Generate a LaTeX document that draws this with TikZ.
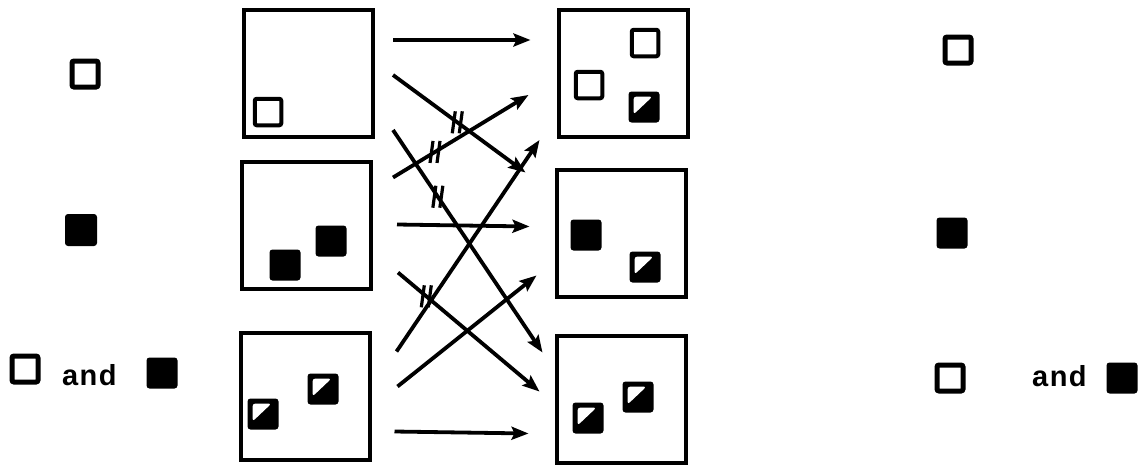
\documentclass[tikz,border=0pt]{standalone}
\usepackage{fontspec}
\setmainfont{Liberation Sans}
\usetikzlibrary{calc,arrows.meta}
\begin{document}
\begin{tikzpicture}[x=1pt,y=-1pt,
  bigbox/.style={draw,line width=4pt,minimum width=129pt,minimum height=127pt,inner sep=0pt},
  hollow/.style={draw,line width=4pt,rounded corners=2pt,minimum size=26.5pt,inner sep=0pt},
  hollowL/.style={draw,line width=5pt,rounded corners=2pt,minimum size=26pt,inner sep=0pt},
  solid/.style={fill=black,rounded corners=3pt,minimum size=31pt,inner sep=0pt},
  half/.style={fill=black,rounded corners=3pt,minimum size=31pt,inner sep=0pt,
    path picture={\fill[white] ($(path picture bounding box.north west)+(5,5)$) -- ++(19,0) -- ($(path picture bounding box.north west)+(5,23)$) -- cycle;}},
  arr/.style={line width=3.8pt,-{Stealth[length=17pt,width=13pt,inset=3pt]}},
  andtext/.style={font=\fontsize{29}{30}\selectfont\bfseries\addfontfeatures{LetterSpace=5},inner sep=0pt,anchor=base west}
]
\useasboundingbox (0,0) rectangle (1142,466);
% big boxes
\node[bigbox] (L1) at (308.5,73.5) {};
\node[bigbox] (L2) at (306.5,225) {};
\node[bigbox] (L3) at (305,396) {};
\node[bigbox] (R1) at (623,73.5) {};
\node[bigbox] (R2) at (621,233) {};
\node[bigbox] (R3) at (621,399) {};
% small squares in boxes
\node[hollow] (l1a) at (268,112) {};
\node[solid] (l2a) at (285,265) {};
\node[solid] (l2b) at (331,241) {};
\node[half] (l3a) at (263,414) {};
\node[half] (l3b) at (323,389) {};
\node[hollow] (r1a) at (645,43) {};
\node[hollow] (r1b) at (589,85) {};
\node[half] (r1c) at (644,107) {};
\node[solid] (r2a) at (586,235) {};
\node[half] (r2b) at (645,267) {};
\node[half] (r3a) at (588,418) {};
\node[half] (r3b) at (638,397) {};
% legends left
\node[hollowL] (gl1) at (85,74) {};
\node[solid,minimum size=32pt] (gl2) at (81,230) {};
\node[hollowL] (gl3) at (25,369) {};
\node[andtext] (and1) at (62,385) {and};
\node[solid] (gl4) at (162,373) {};
% legends right
\node[hollowL] (gr1) at (958,50) {};
\node[solid] (gr2) at (952,233) {};
\node[hollowL] (gr3) at (950,378) {};
\node[andtext] (and2) at (1032,386) {and};
\node[solid] (gr4) at (1122,378) {};
% arrows
\draw[arr] ($(L1.north east)+(18,32)$) -- ($(R1.north west)+(-26,32)$);
\draw[arr] ($(L1.north east)+(18,67)$) -- coordinate[pos=0.485] (hA) ($(R2.north west)+(-29,5)$);
\draw[arr] ($(L1.north east)+(18,122)$) -- coordinate[pos=0.3] (hC) ($(R3.north west)+(-12,19)$);
\draw[arr] ($(L2.north east)+(20,18)$) -- coordinate[pos=0.31] (hB) ($(R1.north west)+(-28,87)$);
\draw[arr] ($(L2.north east)+(24,65)$) -- ($(R2.north west)+(-25,59)$);
\draw[arr] ($(L2.north east)+(25,113)$) -- coordinate[pos=0.2] (hD) ($(R3.north west)+(-15,58)$);
\draw[arr] ($(L3.north east)+(25,21)$) -- ($(R1.north west)+(-17,132)$);
\draw[arr] ($(L3.north east)+(26,56)$) -- ($(R2.north west)+(-18,108)$);
\draw[arr] ($(L3.north east)+(23,101)$) -- ($(R3.north west)+(-26,100)$);
% hash marks
\foreach \h in {hA,hB,hC,hD}{
  \draw[line width=3.2pt] ($(\h)+(-2,-11)$) -- ($(\h)+(-5,11)$)
                          ($(\h)+(5,-11)$) -- ($(\h)+(2,11)$);
}
\end{tikzpicture}
\end{document}
